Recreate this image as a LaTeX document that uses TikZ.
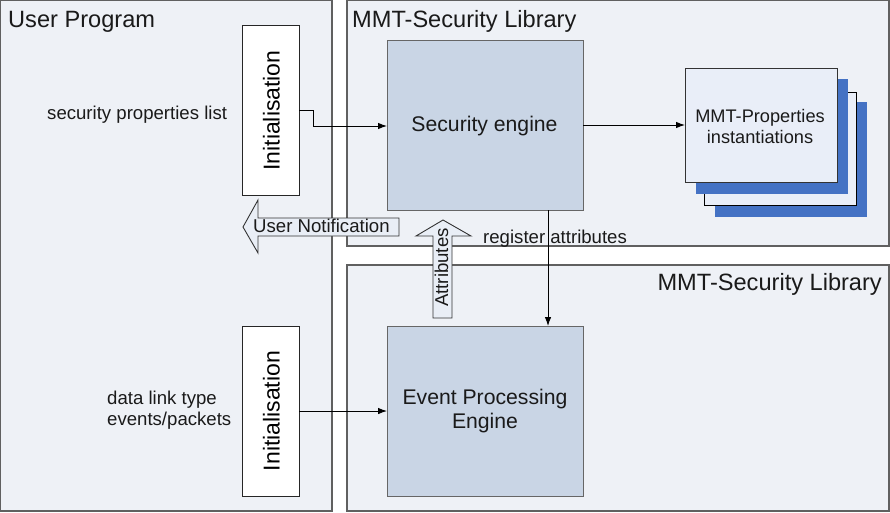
\documentclass[tikz,border=0pt]{standalone}
\usepackage{fontspec}
\setmainfont{Liberation Sans}
\usetikzlibrary{arrows.meta}
\definecolor{panelfill}{HTML}{EEF1F6}
\definecolor{panelline}{HTML}{606060}
\definecolor{engfill}{HTML}{C9D5E5}
\definecolor{engline}{HTML}{666666}
\definecolor{propfill}{HTML}{E9EEF8}
\definecolor{propblue}{HTML}{4472C4}
\definecolor{arrfill}{HTML}{E9EEF6}
\definecolor{txt}{HTML}{1A1A1A}
\begin{document}
\begin{tikzpicture}[x=1pt,y=-1pt,
  panel/.style={draw=panelline, fill=panelfill, line width=1.3pt, inner sep=0pt, outer sep=0pt},
  initbox/.style={draw=black!85, fill=white, line width=0.9pt, inner sep=0pt, outer sep=0pt, minimum width=56.5pt, minimum height=170pt},
  engbox/.style={draw=engline, fill=engfill, line width=1pt, inner sep=0pt, outer sep=0pt, minimum width=196pt, minimum height=170pt},
  layer/.style={inner sep=0pt, outer sep=0pt, minimum width=152pt},
  conn/.style={draw=black, line width=0.9pt, -{Latex[length=9pt,width=6.5pt]}},
  blockarrow/.style={draw=black!80, fill=arrfill, line width=0.9pt},
  title/.style={text=txt, font=\fontsize{23.6}{28}\selectfont, inner sep=0pt},
  lbl/.style={text=txt, font=\fontsize{18.6}{21}\selectfont, inner sep=0pt},
  englbl/.style={text=txt, font=\fontsize{21.2}{24}\selectfont, inner sep=0pt, align=center},
  initlbl/.style={text=black, font=\fontsize{23}{27}\selectfont, inner sep=0pt, rotate=90}
]
\useasboundingbox (0,0) rectangle (890,512);
% panels
\node[panel, minimum width=331.3pt, minimum height=510.3pt] (user) at (166.35,255.85) {};
\node[panel, minimum width=542pt, minimum height=245.3pt] (lib1) at (618,123.35) {};
\node[panel, minimum width=542pt, minimum height=246pt] (lib2) at (618,388) {};
% titles
\node[title, anchor=base west] (tuser) at (8,27) {User Program};
\node[title, anchor=base west] (tlib1) at (352,27) {MMT-Security Library};
\node[title, anchor=base east] (tlib2) at (882,290) {MMT-Security Library};
% initialisation boxes
\node[initbox] (init1) at (270.75,110.5) {};
\node[initbox] (init2) at (270.75,411) {};
\node[initlbl] (i1txt) at (271.5,110.5) {Initialisation};
\node[initlbl] (i2txt) at (271.5,411) {Initialisation};
% engines
\node[engbox] (seceng) at (485,125) {};
\node[engbox] (evteng) at (485,411) {};
\node[englbl, anchor=base] (sectxt) at (484.5,131) {Security engine};
\node[englbl] (evtxt) at (485,411.5) {Event Processing\\Engine};
% properties stack
\node[layer, fill=propblue, minimum height=115pt] (pback) at (791,159.5) {};
\node[layer, draw=black, line width=0.9pt, fill=propfill, minimum height=113pt] (pmid) at (780,148.5) {};
\node[layer, fill=propblue, minimum height=115pt] (pblue) at (772,136.5) {};
\node[layer, draw=black!80, line width=0.9pt, fill=propfill, minimum height=114pt] (props) at (761,125) {};
\node[text=txt, font=\fontsize{18.2}{21}\selectfont, inner sep=0pt, align=center] (proptxt) at (760,126.6) {MMT-Properties\\instantiations};
% side labels
\node[lbl, anchor=base west] (spl) at (47,119) {security properties list};
\node[lbl, anchor=west, align=left] (dlt) at (107,410.5) {data link type\\events/packets};
\node[lbl, anchor=base west] (reg) at (483,243) {register attributes};
% connectors
\coordinate (k1) at (313,126);
\draw[conn] (init1.east) -- (init1.east -| k1) -- (k1) -- (k1 -| seceng.west);
\draw[conn] (seceng.east) -- (props.west);
\draw[conn] ([xshift=63pt]seceng.south) -- ([xshift=63pt]evteng.north);
\draw[conn] (init2.east) -- (evteng.west);
% block arrows
\draw[blockarrow] (243,227) -- (258,200) -- (258,218) -- (399,218) -- (399,236) -- (258,236) -- (258,253) -- cycle;
\node[lbl, anchor=base west] (unot) at (253,232) {User Notification};
\draw[blockarrow] (443,220) -- (471,236) -- (452,236) -- (452,318) -- (433,318) -- (433,236) -- (416,236) -- cycle;
\node[lbl, anchor=base west, rotate=90] (attr) at (448,307) {Attributes};
\end{tikzpicture}
\end{document}
